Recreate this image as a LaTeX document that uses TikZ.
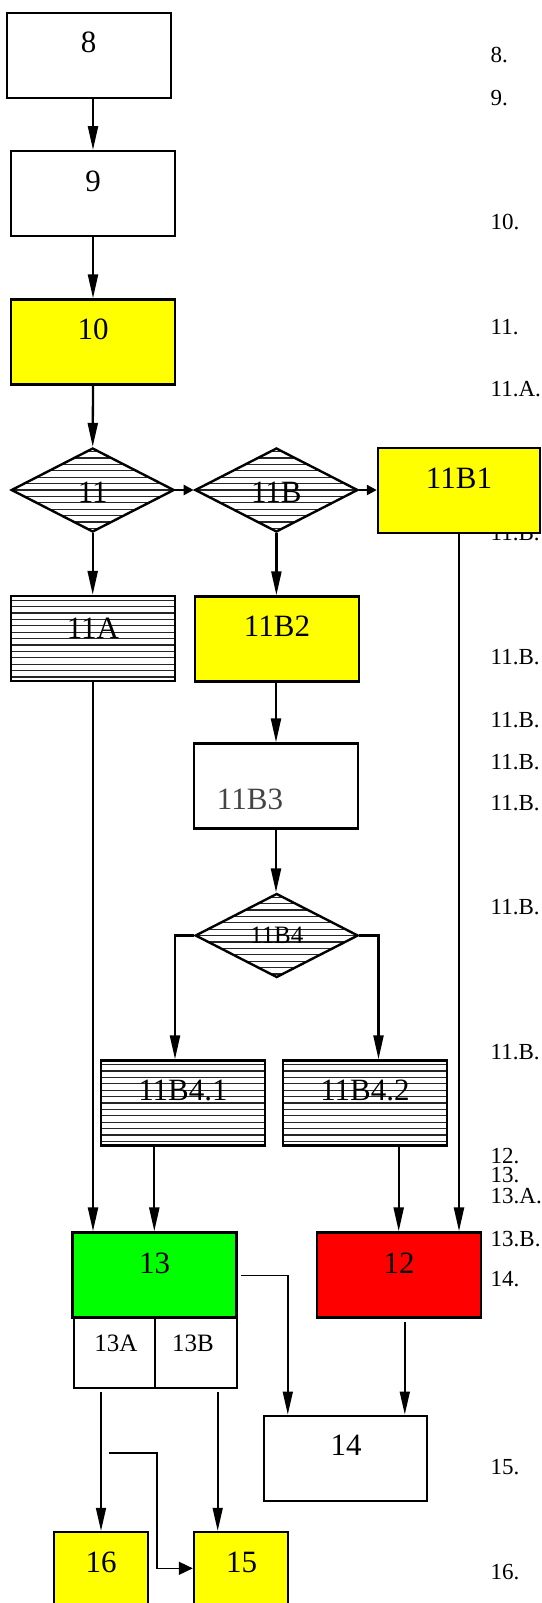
\documentclass[tikz,border=0pt]{standalone}
\usepackage{fontspec}
\setmainfont{Liberation Serif}
\usetikzlibrary{arrows.meta,shapes.geometric}
\definecolor{yel}{HTML}{FFFF00}
\definecolor{grn}{HTML}{00FF00}
\definecolor{rd}{HTML}{FF0000}
\definecolor{txtgrey}{HTML}{444444}
\begin{document}
\begin{tikzpicture}[x=1pt,y=-1pt,
  box/.style={draw=black,line width=2.4pt,rectangle,inner sep=0pt,minimum width=164pt,minimum height=85pt},
  dia/.style={draw=black,line width=2.4pt,diamond,inner sep=0pt,minimum width=163pt,minimum height=84pt},
  hatch/.style={path picture={\foreach \k in {-14,...,14}{\draw[black!85,line width=1.2pt] ([yshift=\k*6.4pt]path picture bounding box.west) -- ([yshift=\k*6.4pt]path picture bounding box.east);}}},
  big/.style={inner sep=0pt,font=\fontsize{31}{31}\selectfont},
  mid/.style={inner sep=0pt,font=\fontsize{25}{25}\selectfont},
  side/.style={inner sep=0pt,anchor=west,font=\fontsize{23}{23}\selectfont},
  arr/.style={line width=2.3pt,-{Triangle[length=24pt,width=10pt]}},
  arrs/.style={line width=2.3pt,-{Triangle[length=10pt,width=10pt]}},
  thinarr/.style={line width=1.6pt,-{Triangle[length=23pt,width=10pt]}},
  elbarr/.style={line width=1.6pt,-{Triangle[length=14pt,width=13pt]}},
]
\useasboundingbox (0,0) rectangle (541,1603);
\fill[white] (0,0) rectangle (541,1603);

% side labels
\node[side] (s8) at (490.5,55) {8.};
\node[side] (s9) at (490.5,98) {9.};
\node[side] (s10) at (490.5,222) {10.};
\node[side] (s11) at (490.5,326.7) {11.};
\node[side] (s11A) at (490.5,389) {11.A.};
\node[side] (s11Ba) at (490.5,533) {11.B.};
\node[side] (s11Bb) at (490.5,656.7) {11.B.};
\node[side] (s11Bc) at (490.5,720) {11.B.};
\node[side] (s11Bd) at (490.5,761.7) {11.B.};
\node[side] (s11Be) at (490.5,802.7) {11.B.};
\node[side] (s11Bf) at (490.5,906.7) {11.B.};
\node[side] (s11Bg) at (490.5,1051.7) {11.B.};
\node[side] (s12) at (490.5,1156) {12.};
\node[side] (s13) at (490.5,1175.5) {13.};
\node[side] (s13A) at (490.5,1196.5) {13.A.};
\node[side] (s13B) at (490.5,1239) {13.B.};
\node[side] (s14) at (490.5,1279) {14.};
\node[side] (s15) at (490.5,1467) {15.};
\node[side] (s16) at (490.5,1572) {16.};

% boxes
\node[box] (n8) at (88.7,55.5) {};
\node[big] (t8) at (88.7,42.5) {8};
\node[box] (n9) at (93,193.7) {};
\node[big] (t9) at (93,181) {9};
\node[box,fill=yel] (n10) at (93,342) {};
\node[big] (t10) at (93,329.5) {10};
\node[dia,hatch] (n11) at (92.7,490) {};
\node[big] (t11) at (92.7,492) {11};
\node[dia,hatch] (n11B) at (276.4,490) {};
\node[big] (t11B) at (276.4,492) {11B};
\node[box,fill=yel,minimum width=162pt,minimum height=85.5pt] (n11B1) at (459,490.5) {};
\node[big] (t11B1) at (459,478) {11B1};
\node[box,hatch] (n11A) at (93,638.5) {};
\node[big] (t11A) at (93,628) {11A};
\node[box,fill=yel] (n11B2) at (277,639) {};
\node[big] (t11B2) at (277,626.7) {11B2};
\node[box] (n11B3) at (276,786) {};
\node[big,text=txtgrey] (t11B3) at (250,799.5) {11B3};
\node[dia,hatch] (n11B4) at (276.7,935.5) {};
\node[mid] (t11B4) at (276.7,935.7) {11B4};
\node[box,hatch] (n11B41) at (183,1103) {};
\node[big] (t11B41) at (183,1090.7) {11B4.1};
\node[box,hatch] (n11B42) at (365,1103) {};
\node[big] (t11B42) at (365,1090.7) {11B4.2};
\node[box,line width=2pt,minimum width=163pt,minimum height=70pt] (n13ab) at (155,1353) {};
\draw[line width=1.6pt] (n13ab.north) -- (n13ab.south);
\node[mid] (t13A) at (116,1343) {13A};
\node[mid] (t13B) at (193,1343) {13B};
\node[box,fill=grn] (n13) at (154.3,1275) {};
\node[big] (t13) at (154.6,1263) {13};
\node[box,fill=rd] (n12) at (398.7,1275) {};
\node[big] (t12) at (399,1263) {12};
\node[box,line width=2pt,minimum width=163pt] (n14) at (345.7,1458) {};
\node[big] (t14) at (346,1445) {14};
\node[box,fill=yel,minimum width=94pt] (n16) at (101,1574.5) {};
\node[big] (t16) at (101,1562) {16};
\node[box,fill=yel,minimum width=94pt] (n15) at (241,1574.5) {};
\node[big] (t15) at (241.5,1562) {15};

% connectors
\draw[arr] (n8.south -| n9.north) -- (n9.north);
\draw[arr] (n9.south) -- (n10.north);
\draw[arr] (n10.south) -- (n11.north);
\draw[arrs] (n11.east) -- (n11B.west);
\draw[arrs] (n11B.east) -- (n11B.east -| n11B1.west);
\draw[arr] (n11.south) -- (n11.south |- n11A.north);
\draw[arr] (n11B.south) -- (n11B.south |- n11B2.north);
\draw[arr] (n11B2.south -| n11B3.north) -- (n11B3.north);
\draw[arr] (n11B3.south) -- (n11B3.south |- n11B4.north);
\coordinate (k1) at (175,935.5);
\coordinate (k2) at (378.5,935.5);
\draw[arr] (n11B4.west) -- (k1) -- (k1 |- n11B41.north);
\draw[arr] (n11B4.east) -- (k2) -- (k2 |- n11B42.north);
\draw[arr] (n11A.south) -- (n11A.south |- n13.north);
\draw[arr] (n13.north |- n11B41.south) -- (n13.north);
\draw[arr] (n12.north |- n11B42.south) -- (n12.north);
\draw[arr] (n11B1.south) -- (n11B1.south |- n12.north);

\coordinate (c13) at (240.5,1275.3);
\coordinate (c14) at (287.8,1300);
\draw[thinarr] (c13) -| (c14 |- n14.north);
\coordinate (c12) at (404.8,1321.7);
\draw[thinarr] (c12) -- (c12 |- n14.north);
\coordinate (c13A) at (101,1392);
\draw[thinarr] (c13A) -- (c13A |- n16.north);
\coordinate (c13B) at (217.7,1392);
\draw[thinarr] (c13B) -- (c13B |- n15.north);
\coordinate (el1) at (108.7,1452.7);
\coordinate (el2) at (157,1568.3);
\draw[elbarr] (el1) -| (el2) -- (el2 -| n15.west);
\end{tikzpicture}
\end{document}
